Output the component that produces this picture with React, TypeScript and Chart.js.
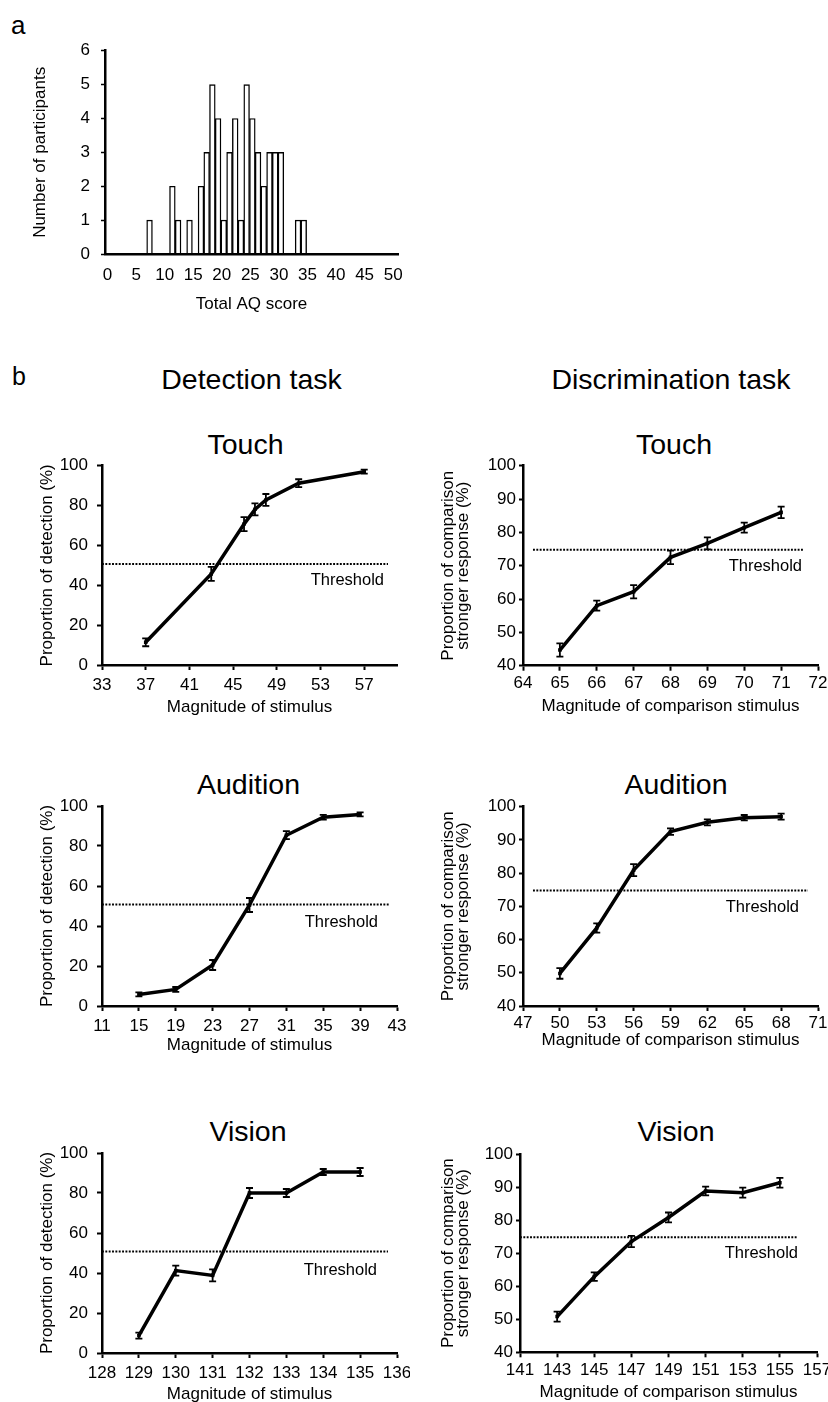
import React, { useEffect, useRef } from "react";
import { Chart, registerables } from "chart.js";

Chart.register(...registerables);

const FONT = "'Liberation Sans', Arial, Helvetica, sans-serif";
const INK = "#000000";
const TICK_SIZE = 17;
const AXIS_TITLE_SIZE = 17;
const HEAD_SIZE = 28.5;

Chart.defaults.font.family = FONT;
Chart.defaults.color = INK;

// ---- a: distribution of total AQ scores ----
const AQ_SCORES = [7, 11, 12, 14, 16, 17, 18, 19, 20, 21, 22, 23, 24, 25, 26, 27, 28, 29, 30, 33, 34];
const AQ_COUNTS = [1, 2, 1, 1, 2, 3, 5, 4, 1, 3, 4, 1, 5, 4, 3, 2, 3, 3, 3, 1, 1];
const AQ_TICKS = [0, 5, 10, 15, 20, 25, 30, 35, 40, 45, 50];

// ---- b: psychometric functions (mean ± SE) ----
const TOUCH_DET_X = [37, 43, 46, 47, 48, 51, 57];
const TOUCH_DET_Y = [11.4, 45.7, 70.7, 78.1, 82.8, 91.2, 97.0];
const TOUCH_DET_SE = [2.0, 3.5, 3.5, 3.0, 3.0, 2.0, 1.0];
const TOUCH_DET_TICKS = [33, 37, 41, 45, 49, 53, 57];

const TOUCH_DIS_X = [65, 66, 67, 68, 69, 70, 71];
const TOUCH_DIS_Y = [44.7, 58.0, 62.2, 72.5, 76.7, 81.4, 86.0];
const TOUCH_DIS_SE = [2.0, 1.5, 2.0, 2.0, 1.8, 1.5, 1.7];
const TOUCH_DIS_TICKS = [64, 65, 66, 67, 68, 69, 70, 71, 72];

const AUD_DET_X = [15, 19, 23, 27, 31, 35, 39];
const AUD_DET_Y = [5.8, 8.3, 20.5, 50.5, 85.4, 94.4, 95.8];
const AUD_DET_SE = [1.0, 1.2, 2.5, 3.5, 2.0, 1.2, 1.0];
const AUD_DET_TICKS = [11, 15, 19, 23, 27, 31, 35, 39, 43];

const AUD_DIS_X = [50, 53, 56, 59, 62, 65, 68];
const AUD_DIS_Y = [49.8, 63.5, 80.9, 92.5, 95.3, 96.7, 97.0];
const AUD_DIS_SE = [1.6, 1.4, 1.8, 1.0, 0.9, 0.8, 0.9];
const AUD_DIS_TICKS = [47, 50, 53, 56, 59, 62, 65, 68, 71];

const VIS_DET_X = [129, 130, 131, 132, 133, 134, 135];
const VIS_DET_Y = [8.7, 41.2, 38.8, 80.0, 80.0, 90.5, 90.5];
const VIS_DET_SE = [1.5, 2.5, 3.0, 2.5, 2.0, 1.5, 2.0];
const VIS_DET_TICKS = [128, 129, 130, 131, 132, 133, 134, 135, 136];

const VIS_DIS_X = [143, 145, 147, 149, 151, 153, 155];
const VIS_DIS_Y = [50.8, 62.9, 73.5, 80.8, 88.8, 88.3, 91.3];
const VIS_DIS_SE = [1.5, 1.3, 1.7, 1.5, 1.3, 1.5, 1.5];
const VIS_DIS_TICKS = [141, 143, 145, 147, 149, 151, 153, 155, 157];

const DETECTION_THRESHOLD = 50.7;
const DISCRIMINATION_THRESHOLD = 74.8;

const DET_Y_TITLE = "Proportion of detection (%)";
const DIS_Y_TITLE = ["Proportion of comparison", "stronger response (%)"];
const DET_X_TITLE = "Magnitude of stimulus";
const DIS_X_TITLE = "Magnitude of comparison stimulus";

type Box = { left: number; top: number; width: number; height: number };
type Area = { left: number; top: number; right: number; bottom: number };

type PanelSpec = {
  key: string;
  side: "left" | "right";
  area: Area;
  xMin: number;
  xMax: number;
  xTicks: number[];
  yMin: number;
  yMax: number;
  yStep: number;
  xs: number[];
  ys: number[];
  se: number[];
  threshold: number;
  xTitleGap: number;
  thr: { start: number; end: number; labelRight: number; labelDy: number };
};

const PANELS: PanelSpec[] = [
  {
    key: "touch-det", side: "left",
    area: { left: 102, top: 465.7, right: 397, bottom: 665 },
    xMin: 33, xMax: 60, xTicks: TOUCH_DET_TICKS, yMin: 0, yMax: 100, yStep: 20,
    xs: TOUCH_DET_X, ys: TOUCH_DET_Y, se: TOUCH_DET_SE, threshold: DETECTION_THRESHOLD,
    xTitleGap: 42, thr: { start: 0, end: 9, labelRight: 13, labelDy: 16 },
  },
  {
    key: "touch-dis", side: "right",
    area: { left: 523, top: 465.7, right: 818, bottom: 665.7 },
    xMin: 64, xMax: 72, xTicks: TOUCH_DIS_TICKS, yMin: 40, yMax: 100, yStep: 10,
    xs: TOUCH_DIS_X, ys: TOUCH_DIS_Y, se: TOUCH_DIS_SE, threshold: DISCRIMINATION_THRESHOLD,
    xTitleGap: 41, thr: { start: 10, end: 15, labelRight: 16, labelDy: 17 },
  },
  {
    key: "aud-det", side: "left",
    area: { left: 102, top: 806, right: 397, bottom: 1006 },
    xMin: 11, xMax: 43, xTicks: AUD_DET_TICKS, yMin: 0, yMax: 100, yStep: 20,
    xs: AUD_DET_X, ys: AUD_DET_Y, se: AUD_DET_SE, threshold: DETECTION_THRESHOLD,
    xTitleGap: 39, thr: { start: 0, end: 7, labelRight: 19, labelDy: 18 },
  },
  {
    key: "aud-dis", side: "right",
    area: { left: 523, top: 806.7, right: 818, bottom: 1006 },
    xMin: 47, xMax: 71, xTicks: AUD_DIS_TICKS, yMin: 40, yMax: 100, yStep: 10,
    xs: AUD_DIS_X, ys: AUD_DIS_Y, se: AUD_DIS_SE, threshold: DISCRIMINATION_THRESHOLD,
    xTitleGap: 34, thr: { start: 10, end: 10, labelRight: 19, labelDy: 17 },
  },
  {
    key: "vis-det", side: "left",
    area: { left: 102, top: 1153, right: 397, bottom: 1353 },
    xMin: 128, xMax: 136, xTicks: VIS_DET_TICKS, yMin: 0, yMax: 100, yStep: 20,
    xs: VIS_DET_X, ys: VIS_DET_Y, se: VIS_DET_SE, threshold: DETECTION_THRESHOLD,
    xTitleGap: 41, thr: { start: 0, end: 9, labelRight: 20, labelDy: 19 },
  },
  {
    key: "vis-dis", side: "right",
    area: { left: 520, top: 1154, right: 817, bottom: 1352.3 },
    xMin: 141, xMax: 157, xTicks: VIS_DIS_TICKS, yMin: 40, yMax: 100, yStep: 10,
    xs: VIS_DIS_X, ys: VIS_DIS_Y, se: VIS_DIS_SE, threshold: DISCRIMINATION_THRESHOLD,
    xTitleGap: 40, thr: { start: 0, end: 19, labelRight: 19, labelDy: 16 },
  },
];

function errorBars(se: number[]) {
  return {
    id: "errorBars",
    afterDatasetsDraw(chart: any) {
      const meta = chart.getDatasetMeta(0);
      const yScale = chart.scales.y;
      const raw = chart.data.datasets[0].data as { x: number; y: number }[];
      const ctx = chart.ctx as CanvasRenderingContext2D;
      ctx.save();
      ctx.strokeStyle = INK;
      ctx.lineWidth = 1.8;
      meta.data.forEach((pt: any, i: number) => {
        const top = yScale.getPixelForValue(raw[i].y + se[i]);
        const bot = yScale.getPixelForValue(raw[i].y - se[i]);
        const x = pt.x;
        ctx.beginPath();
        ctx.moveTo(x, top);
        ctx.lineTo(x, bot);
        ctx.moveTo(x - 3.5, top);
        ctx.lineTo(x + 3.5, top);
        ctx.moveTo(x - 3.5, bot);
        ctx.lineTo(x + 3.5, bot);
        ctx.stroke();
      });
      ctx.restore();
    },
  };
}

function thresholdLine(value: number, t: PanelSpec["thr"]) {
  return {
    id: "thresholdLine",
    beforeDatasetsDraw(chart: any) {
      const { ctx, chartArea } = chart;
      const y = chart.scales.y.getPixelForValue(value);
      ctx.save();
      ctx.strokeStyle = INK;
      ctx.lineWidth = 2;
      ctx.setLineDash([1.9, 1.45]);
      ctx.beginPath();
      ctx.moveTo(chartArea.left + t.start, y);
      ctx.lineTo(chartArea.right - t.end, y);
      ctx.stroke();
      ctx.setLineDash([]);
      ctx.fillStyle = INK;
      ctx.font = `16.5px ${FONT}`;
      ctx.textAlign = "right";
      ctx.textBaseline = "middle";
      ctx.fillText("Threshold", chartArea.right - t.labelRight, y + t.labelDy);
      ctx.restore();
    },
  };
}

const TITLE_HALF = (AXIS_TITLE_SIZE * 1.2) / 2;

function panelBox(p: PanelSpec): { box: Box; yAxisWidth: number; xAxisHeight: number; pad: any } {
  const left = p.side === "left" ? 20 : 425;
  const right = p.side === "left" ? 410 : 828;
  const top = Math.floor(p.area.top - 22);
  const xAxisHeight = p.xTitleGap + TITLE_HALF + 2;
  const height = Math.ceil(p.area.bottom - top + xAxisHeight);
  return {
    box: { left, top, width: right - left, height },
    yAxisWidth: p.area.left - left,
    xAxisHeight,
    pad: {
      left: 0,
      right: right - p.area.right,
      top: p.area.top - top,
      bottom: height - (p.area.bottom - top) - xAxisHeight,
    },
  };
}

function buildPanel(canvas: HTMLCanvasElement, p: PanelSpec) {
  const { yAxisWidth, xAxisHeight, pad } = panelBox(p);
  const isLeft = p.side === "left";
  const twoLineHeight = 0.9;
  return new Chart(canvas, {
    type: "line",
    data: {
      datasets: [
        {
          data: p.xs.map((x, i) => ({ x, y: p.ys[i] })),
          borderColor: INK,
          borderWidth: 3.5,
          pointRadius: 2.5,
          pointStyle: "rect",
          pointBackgroundColor: INK,
          pointBorderWidth: 0,
          tension: 0,
          fill: false,
        },
      ],
    },
    options: {
      animation: false,
      responsive: false,
      maintainAspectRatio: false,
      events: [],
      layout: { padding: pad },
      plugins: { legend: { display: false }, tooltip: { enabled: false } },
      scales: {
        x: {
          type: "linear",
          min: p.xMin,
          max: p.xMax,
          afterBuildTicks: (s: any) => {
            s.ticks = p.xTicks.map((v) => ({ value: v }));
          },
          afterFit: (s: any) => {
            s.height = xAxisHeight;
            s.paddingLeft = 0;
            s.paddingRight = 0;
          },
          grid: { drawOnChartArea: false, drawTicks: true, tickLength: 5, tickWidth: 2, tickColor: INK },
          border: { display: true, color: INK, width: 2.5, z: 1 },
          ticks: {
            color: INK,
            font: { family: FONT, size: TICK_SIZE },
            padding: isLeft ? 4.8 : 2.5,
            maxRotation: 0,
            autoSkip: false,
          },
          title: {
            display: true,
            text: isLeft ? DET_X_TITLE : DIS_X_TITLE,
            color: INK,
            font: { family: FONT, size: AXIS_TITLE_SIZE },
            padding: { top: 0, bottom: 2 },
          },
        },
        y: {
          min: p.yMin,
          max: p.yMax,
          ticks: {
            stepSize: p.yStep,
            color: INK,
            font: { family: FONT, size: TICK_SIZE },
            padding: isLeft ? 9 : 3,
          },
          afterFit: (s: any) => {
            s.width = yAxisWidth;
            s.paddingTop = 0;
            s.paddingBottom = 0;
          },
          grid: { drawOnChartArea: false, drawTicks: true, tickLength: isLeft ? 5 : 4, tickWidth: 2, tickColor: INK },
          border: { display: true, color: INK, width: 2.5, z: 1 },
          title: {
            display: true,
            text: isLeft ? DET_Y_TITLE : DIS_Y_TITLE,
            color: INK,
            font: { family: FONT, size: AXIS_TITLE_SIZE, lineHeight: isLeft ? 1.2 : twoLineHeight },
            padding: {
              top: isLeft ? 47.5 - 20 - TITLE_HALF : 448 - 425 - (AXIS_TITLE_SIZE * twoLineHeight) / 2,
              bottom: 0,
            },
          },
        },
      },
    } as any,
    plugins: [thresholdLine(p.threshold, p.thr), errorBars(p.se)],
  });
}

const HIST_BOX: Box = { left: 0, top: 20, width: 420, height: 296 };
const HIST_AREA: Area = { left: 105, top: 50.7, right: 398, bottom: 254 };

function buildHistogram(canvas: HTMLCanvasElement) {
  const xAxisHeight = 50 + TITLE_HALF + 2;
  const pad = {
    left: 0,
    right: HIST_BOX.left + HIST_BOX.width - HIST_AREA.right,
    top: HIST_AREA.top - HIST_BOX.top,
    bottom: HIST_BOX.height - (HIST_AREA.bottom - HIST_BOX.top) - xAxisHeight,
  };
  return new Chart(canvas, {
    type: "bar",
    data: {
      datasets: [
        {
          data: AQ_SCORES.map((s, i) => ({ x: s, y: AQ_COUNTS[i] })),
          backgroundColor: "#ffffff",
          borderColor: INK,
          borderWidth: 1.4,
          barPercentage: 1,
          categoryPercentage: 1,
        },
      ],
    },
    options: {
      animation: false,
      responsive: false,
      maintainAspectRatio: false,
      events: [],
      layout: { padding: pad },
      plugins: { legend: { display: false }, tooltip: { enabled: false } },
      scales: {
        x: {
          type: "linear",
          min: -0.8,
          max: 50.5,
          offset: false,
          afterBuildTicks: (s: any) => {
            s.ticks = AQ_TICKS.map((v) => ({ value: v }));
          },
          afterFit: (s: any) => {
            s.height = xAxisHeight;
            s.paddingLeft = 0;
            s.paddingRight = 0;
          },
          grid: { display: true, offset: false, drawOnChartArea: false, drawTicks: false },
          border: { display: true, color: INK, width: 2.5, z: 1 },
          ticks: {
            color: INK,
            font: { family: FONT, size: TICK_SIZE },
            padding: 10.8,
            labelOffset: -2,
            maxRotation: 0,
            autoSkip: false,
          },
          title: {
            display: true,
            text: "Total AQ score",
            color: INK,
            font: { family: FONT, size: AXIS_TITLE_SIZE },
            padding: { top: 0, bottom: 2 },
          },
        },
        y: {
          min: 0,
          max: 6,
          ticks: { stepSize: 1, color: INK, font: { family: FONT, size: TICK_SIZE }, padding: 11 },
          afterFit: (s: any) => {
            s.width = HIST_AREA.left - HIST_BOX.left;
            s.paddingTop = 0;
            s.paddingBottom = 0;
          },
          grid: { drawOnChartArea: false, drawTicks: true, tickLength: 4, tickWidth: 1.5, tickColor: INK },
          border: { display: true, color: INK, width: 2.5, z: 1 },
          title: {
            display: true,
            text: "Number of participants",
            color: INK,
            font: { family: FONT, size: AXIS_TITLE_SIZE },
            padding: { top: 40 - TITLE_HALF, bottom: 0 },
          },
        },
      },
    } as any,
  });
}

function ChartCanvas({ box, build }: { box: Box; build: (c: HTMLCanvasElement) => Chart }) {
  const ref = useRef<HTMLCanvasElement>(null);
  useEffect(() => {
    const chart = build(ref.current as HTMLCanvasElement);
    return () => chart.destroy();
  }, []);
  return (
    <canvas
      ref={ref}
      width={box.width}
      height={box.height}
      style={{ position: "absolute", left: box.left, top: box.top, width: box.width, height: box.height }}
    />
  );
}

function Label({
  x,
  baseline,
  size,
  align = "center",
  children,
}: {
  x: number;
  baseline: number;
  size: number;
  align?: "center" | "left";
  children: React.ReactNode;
}) {
  return (
    <div
      style={{
        position: "absolute",
        left: x,
        top: baseline - 0.8465 * size,
        fontSize: size,
        lineHeight: `${size}px`,
        whiteSpace: "nowrap",
        transform: align === "center" ? "translateX(-50%)" : undefined,
      }}
    >
      {children}
    </div>
  );
}

export default function App() {
  return (
    <div
      style={{
        position: "absolute",
        left: 0,
        top: 0,
        width: 828,
        height: 1402,
        background: "#ffffff",
        color: INK,
        fontFamily: FONT,
        overflow: "hidden",
      }}
    >
      <Label x={11} baseline={34} size={26} align="left">a</Label>
      <ChartCanvas box={HIST_BOX} build={buildHistogram} />

      <Label x={12} baseline={385} size={25} align="left">b</Label>
      <Label x={251.5} baseline={389} size={HEAD_SIZE}>Detection task</Label>
      <Label x={671} baseline={389} size={HEAD_SIZE}>Discrimination task</Label>

      <Label x={245.5} baseline={454} size={HEAD_SIZE}>Touch</Label>
      <Label x={674} baseline={454} size={HEAD_SIZE}>Touch</Label>
      <Label x={248.5} baseline={794} size={HEAD_SIZE}>Audition</Label>
      <Label x={676} baseline={794} size={HEAD_SIZE}>Audition</Label>
      <Label x={248} baseline={1141} size={HEAD_SIZE}>Vision</Label>
      <Label x={676} baseline={1141} size={HEAD_SIZE}>Vision</Label>

      {PANELS.map((p) => (
        <ChartCanvas key={p.key} box={panelBox(p).box} build={(c) => buildPanel(c, p)} />
      ))}
    </div>
  );
}
